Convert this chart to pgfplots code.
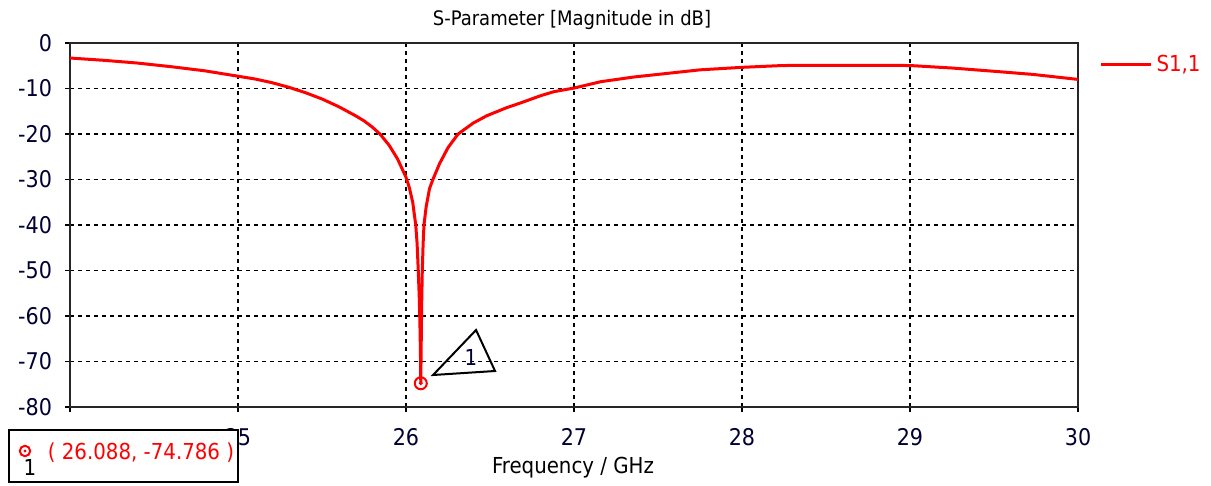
\documentclass[border=0pt]{standalone}
\usepackage{pgfplots}
\pgfplotsset{compat=1.18}
\usepackage{fontspec}
\setmainfont{DejaVu Sans Condensed}
\begin{document}
\begin{tikzpicture}
\begin{axis}[
  at={(35pt,39.5pt)}, anchor=south west,
  scale only axis, width=504pt, height=182pt,
  xmin=24, xmax=30, ymin=-80, ymax=0,
  xtick={24,25,26,27,28,29,30},
  xticklabels={{},25,26,27,28,29,30},
  ytick={-80,-70,-60,-50,-40,-30,-20,-10,0},
  yticklabels={-80,-70,-60,-50,-40,-30,-20,-10,0},
  tick pos=left,
  tick align=outside, major tick length=2.5pt,
  tick style={black, line width=0.7pt},
  axis line style={black!85, line width=1pt},
  grid=major,
  major grid style={black, line width=0.65pt, dash pattern=on 2pt off 2pt},
  ticklabel style={font=\fontsize{11.5}{13}\selectfont, text=black!80!blue},
  xticklabel style={yshift=-4.5pt},
  yticklabel style={xshift=-3pt},
  legend style={draw=none, fill=none, at={(1.015,0.94)}, anchor=west,
    font=\fontsize{11}{13}\selectfont, text=red},
  legend image code/.code={\draw[#1] (0pt,0pt) -- (25pt,0pt);},
  legend cell align=left,
  clip=false,
]
\addplot[red, line width=1.5pt] coordinates {
(24.0,-3.3) (24.2,-3.8) (24.4,-4.4) (24.6,-5.2) (24.8,-6.1) (25.0,-7.3)
(25.1,-7.9) (25.2,-8.7) (25.3,-9.7) (25.4,-10.9) (25.5,-12.3) (25.6,-14.0)
(25.7,-16.0) (25.75,-17.1) (25.8,-18.5) (25.845,-20.0) (25.9,-22.5)
(25.95,-25.5) (26.0,-29.5) (26.02,-31.8) (26.04,-35.0) (26.058,-40.0)
(26.066,-44) (26.073,-50.0) (26.079,-56) (26.083,-62) (26.086,-68)
(26.088,-74.786) (26.090,-68) (26.093,-58) (26.097,-50) (26.102,-44)
(26.107,-40) (26.12,-36) (26.14,-32) (26.16,-30) (26.2,-26.5) (26.25,-23)
(26.31,-20) (26.4,-17.6) (26.48,-16.0) (26.6,-14.2) (26.68,-13.2)
(26.8,-11.6) (26.88,-10.7) (27.0,-9.9) (27.16,-8.5) (27.35,-7.5)
(27.55,-6.7) (27.75,-5.9) (28.0,-5.35) (28.24,-4.95) (28.5,-4.9)
(28.75,-4.9) (29.0,-4.95) (29.25,-5.5) (29.53,-6.3) (29.73,-6.9) (30.0,-8.0)
};
\addlegendentry{S1,1}
\addplot[red, only marks, mark=o, mark size=3pt, line width=1pt, forget plot] coordinates {(26.088,-74.786)};
\addplot[red, only marks, mark=*, mark size=0.8pt, forget plot] coordinates {(26.088,-74.786)};
\draw[black, line width=1pt, line join=miter] (axis cs:26.161,-72.97) -- (axis cs:26.417,-63.08) -- (axis cs:26.530,-72.09) -- cycle;
\node[font=\fontsize{11}{13}\selectfont, text=black!80!blue] at (axis cs:26.387,-69.2) {1};
\end{axis}
% title and x label
\node[font=\fontsize{10}{12}\selectfont] at (286pt,233pt) {S-Parameter [Magnitude in dB]};
\node[font=\fontsize{11}{13}\selectfont] at (286.5pt,9pt) {Frequency / GHz};
% marker readout box
\draw[black, line width=1pt, fill=white] (4.5pt,28pt) rectangle (119pt,2pt);
\draw[red, line width=1pt] (12.5pt,17.5pt) circle (2.6pt);
\fill[red] (12.5pt,17.5pt) circle (0.8pt);
\node[font=\fontsize{11}{13}\selectfont] at (15pt,9.5pt) {1};
\node[font=\fontsize{11}{13}\selectfont, text=red] at (70.5pt,16.5pt) {( 26.088, -74.786 )};
\pgfresetboundingbox
\path[use as bounding box] (0,0) rectangle (605.5pt,243pt);
\end{tikzpicture}
\end{document}
